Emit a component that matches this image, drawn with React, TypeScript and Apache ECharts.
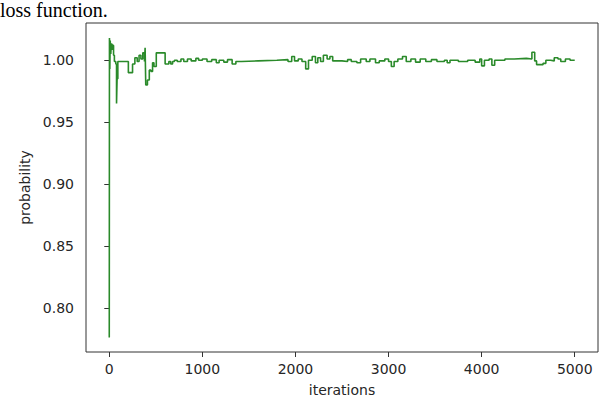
import * as echarts from 'echarts';
import { useEffect, useRef } from 'react';

// change points of the step curve (iteration, probability)
const iterations = [
  0, 2, 6, 10, 16, 22, 30, 38, 46, 55, 70, 78, 84, 92, 205, 250, 275, 300, 320, 340,
  360, 378, 385, 392, 410, 430, 448, 465, 480, 505, 600, 640, 660, 680, 700, 730, 770, 800, 840, 880,
  930, 960, 1000, 1050, 1100, 1150, 1180, 1230, 1270, 1320, 1360, 1420, 1600, 1800, 1920, 1960, 1990, 2030, 2070, 2110,
  2140, 2180, 2215, 2240, 2270, 2300, 2340, 2370, 2400, 2500, 2560, 2600, 2660, 2700, 2760, 2800, 2860, 2900, 2960, 3000,
  3030, 3060, 3100, 3150, 3190, 3240, 3290, 3340, 3400, 3460, 3520, 3600, 3630, 3660, 3750, 3850, 3930, 3980, 4000, 4030,
  4080, 4110, 4140, 4250, 4350, 4480, 4540, 4570, 4590, 4660, 4690, 4740, 4780, 4820, 4850, 4900, 4950, 5000,
];
const probability = [
  0.776, 1.018, 0.993, 1.016, 1.005, 1.013, 1.009, 1.012, 1.004, 0.999, 0.997, 0.965, 0.985, 0.999, 0.99, 0.997, 1.002, 0.999, 1.004, 1.001,
  1.006, 0.999, 1.01, 0.98, 0.984, 0.992, 0.991, 0.998, 0.995, 1.006, 0.997, 0.999, 0.997, 0.999, 1.0, 0.999, 1.001, 0.999, 1.001, 0.9995,
  1.0015, 1.0, 1.001, 0.999, 1.0005, 0.998, 1.0, 0.9985, 1.0005, 0.997, 0.999, 0.9995, 1.0, 1.0005, 0.999, 1.003, 0.9995, 1.001, 0.999, 0.993,
  1.0, 1.003, 0.998, 1.002, 0.999, 1.004, 1.001, 1.003, 0.9995, 0.999, 1.0005, 0.999, 0.998, 1.001, 0.999, 1.001, 0.998, 0.9995, 1.001, 0.999,
  0.995, 0.999, 1.001, 1.003, 0.999, 1.001, 0.9985, 1.001, 0.999, 1.0005, 0.999, 1.0, 0.998, 1.0, 0.999, 1.0, 0.9985, 1.001, 0.9955, 1.0,
  1.001, 0.996, 1.0, 1.001, 1.0015, 1.001, 1.0065, 0.9995, 0.9965, 0.9975, 1.0, 0.9995, 1.002, 1.001, 0.999, 1.001, 1.0, 0.9995,
];

const xTicks = [0, 1000, 2000, 3000, 4000, 5000];
const yTicks = [0.8, 0.85, 0.9, 0.95, 1.0];

const textColor = '#262626';
const font = 'DejaVu Sans';

export default function App() {
  const chartRef = useRef<HTMLDivElement>(null);

  useEffect(() => {
    document.body.style.margin = '0';
    if (!chartRef.current) return;
    const chart = echarts.init(chartRef.current, null, { renderer: 'svg' });
    chart.setOption({
      animation: false,
      grid: {
        left: 86,
        right: 2,
        top: 23,
        bottom: 46,
        show: true,
        borderColor: '#333',
        borderWidth: 1,
      },
      graphic: [
        {
          // caption text of the surrounding page, sits just above the plot
          type: 'text',
          left: 0,
          top: 0,
          style: {
            text: 'loss function.',
            font: '20px "Liberation Serif"',
            fill: '#000',
          },
        },
      ],
      xAxis: {
        type: 'value',
        min: -250,
        max: 5250,
        name: 'iterations',
        nameLocation: 'middle',
        nameGap: 31,
        nameTextStyle: { fontFamily: font, fontSize: 14, color: textColor },
        splitLine: { show: false },
        axisLine: { show: false },
        axisTick: { show: true, length: 5, lineStyle: { color: '#333' }, customValues: xTicks },
        axisLabel: {
          customValues: xTicks,
          margin: 10,
          fontFamily: font,
          fontSize: 14,
          color: textColor,
          formatter: (v: number) => String(v),
        },
      },
      yAxis: {
        type: 'value',
        min: 0.7643,
        max: 1.0301,
        name: 'probability',
        nameLocation: 'middle',
        nameGap: 51,
        nameTextStyle: { fontFamily: font, fontSize: 14, color: textColor },
        splitLine: { show: false },
        axisLine: { show: false },
        axisTick: { show: true, length: 5, lineStyle: { color: '#333' }, customValues: yTicks },
        axisLabel: {
          customValues: yTicks,
          margin: 12,
          fontFamily: font,
          fontSize: 14,
          color: textColor,
          formatter: (v: number) => v.toFixed(2),
        },
      },
      series: [
        {
          type: 'line',
          step: 'end',
          showSymbol: false,
          symbol: 'none',
          lineStyle: { color: '#2a8a2a', width: 1.6 },
          data: iterations.map((x, i) => [x, probability[i]]),
        },
      ],
    });
    return () => chart.dispose();
  }, []);

  return <div ref={chartRef} style={{ width: 600, height: 402 }} />;
}
